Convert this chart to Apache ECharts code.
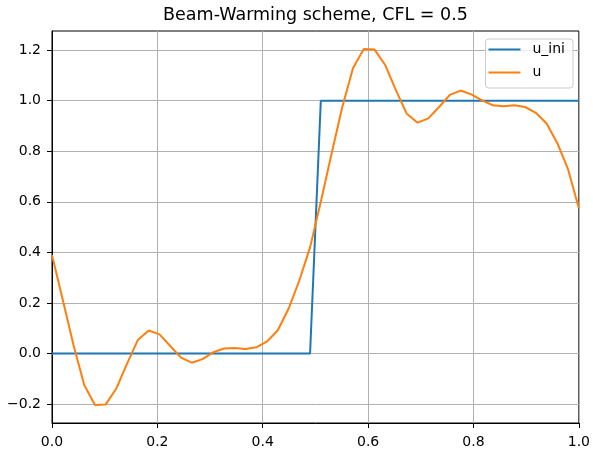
<!DOCTYPE html>
<html>
<head>
<meta charset="utf-8">
<script src="https://cdn.jsdelivr.net/npm/echarts@6/dist/echarts.min.js"></script>
<style>html,body{margin:0;padding:0;background:#fff}#c{width:593px;height:449px}</style>
</head>
<body>
<div id="c"></div>
<script>
const titleText = 'Beam-Warming scheme, CFL = 0.5';
const seriesNames = ['u_ini', 'u'];
const xs = [0, 0.0204, 0.0408, 0.0612, 0.0816, 0.102, 0.1224, 0.1429, 0.1633, 0.1837,
  0.2041, 0.2245, 0.2449, 0.2653, 0.2857, 0.3061, 0.3265, 0.3469, 0.3673, 0.3878,
  0.4082, 0.4286, 0.449, 0.4694, 0.4898, 0.5102, 0.5306, 0.551, 0.5714, 0.5918,
  0.6122, 0.6327, 0.6531, 0.6735, 0.6939, 0.7143, 0.7347, 0.7551, 0.7755, 0.7959,
  0.8163, 0.8367, 0.8571, 0.8776, 0.898, 0.9184, 0.9388, 0.9592, 0.9796, 1.0];
const uIni = [0,0,0,0,0,0,0,0,0,0, 0,0,0,0,0,0,0,0,0,0, 0,0,0,0,0,
  1,1,1,1,1, 1,1,1,1,1, 1,1,1,1,1, 1,1,1,1,1, 1,1,1,1,1];
const u = [0.39, 0.213, 0.034, -0.124, -0.203, -0.201, -0.137, -0.038, 0.055, 0.091,
  0.076, 0.03, -0.016, -0.036, -0.022, 0.005, 0.02, 0.022, 0.018, 0.025,
  0.048, 0.092, 0.177, 0.289, 0.42, 0.6, 0.79, 0.975, 1.129, 1.204,
  1.202, 1.14, 1.04, 0.948, 0.913, 0.93, 0.975, 1.023, 1.04, 1.025,
  1.001, 0.982, 0.978, 0.982, 0.975, 0.952, 0.91, 0.832, 0.728, 0.575];
const xTicks = [0, 0.2, 0.4, 0.6, 0.8, 1.0];
const yTicks = [-0.2, 0, 0.2, 0.4, 0.6, 0.8, 1.0, 1.2];
const yMin = -0.2745, yMax = 1.2755;

const pair = (a, b) => a.map((v, i) => [v, b[i]]);
const fmt = v => v.toFixed(1).replace('-', '\u2212');
const font = 'DejaVu Sans';

const chart = echarts.init(document.getElementById('c'), null, {renderer: 'canvas'});
chart.setOption({
  animation: false,
  backgroundColor: '#fff',
  title: {
    text: titleText, left: 315.5, textAlign: 'center', top: 6, padding: 0,
    textStyle: {fontFamily: font, fontSize: 17.5, fontWeight: 'normal', color: '#000'}
  },
  grid: {left: 52, right: 13, top: 31, bottom: 25, show: true, borderColor: '#000', borderWidth: 1, backgroundColor: 'transparent'},
  legend: {
    orient: 'vertical', right: 20, top: 39,
    padding: [3, 8, 8, 3],
    borderColor: '#cccccc', borderWidth: 1, borderRadius: 3,
    backgroundColor: 'rgba(255,255,255,0.8)',
    itemWidth: 32, itemHeight: 2, itemGap: 8, icon: 'rect',
    textStyle: {fontFamily: font, fontSize: 14, color: '#000', lineHeight: 15, padding: [0, 0, 0, 7]},
    data: seriesNames
  },
  xAxis: {
    type: 'value', min: 0, max: 1, interval: 0.2,
    axisLine: {show: true, onZero: false, lineStyle: {color: '#000', width: 1}},
    axisTick: {show: true, length: 5, lineStyle: {color: '#000', width: 1}},
    axisLabel: {fontFamily: font, fontSize: 14, color: '#000', margin: 12, formatter: fmt, customValues: xTicks},
    splitLine: {show: true, lineStyle: {color: '#b0b0b0', width: 1}}
  },
  yAxis: {
    type: 'value', min: yMin, max: yMax, splitNumber: 7,
    axisLine: {show: true, onZero: false, lineStyle: {color: '#000', width: 1}},
    axisTick: {show: true, length: 5, lineStyle: {color: '#000', width: 1}, customValues: yTicks},
    axisLabel: {fontFamily: font, fontSize: 14, color: '#000', margin: 11, formatter: fmt, customValues: yTicks},
    splitLine: {show: true, lineStyle: {color: '#b0b0b0', width: 1}}
  },
  series: [
    {name: seriesNames[0], type: 'line', data: pair(xs, uIni), showSymbol: false, symbol: 'none',
      lineStyle: {color: '#1f77b4', width: 2}, itemStyle: {color: '#1f77b4'}, z: 3},
    {name: seriesNames[1], type: 'line', data: pair(xs, u), showSymbol: false, symbol: 'none',
      lineStyle: {color: '#ff7f0e', width: 2}, itemStyle: {color: '#ff7f0e'}, z: 4}
  ]
});
</script>
</body>
</html>
